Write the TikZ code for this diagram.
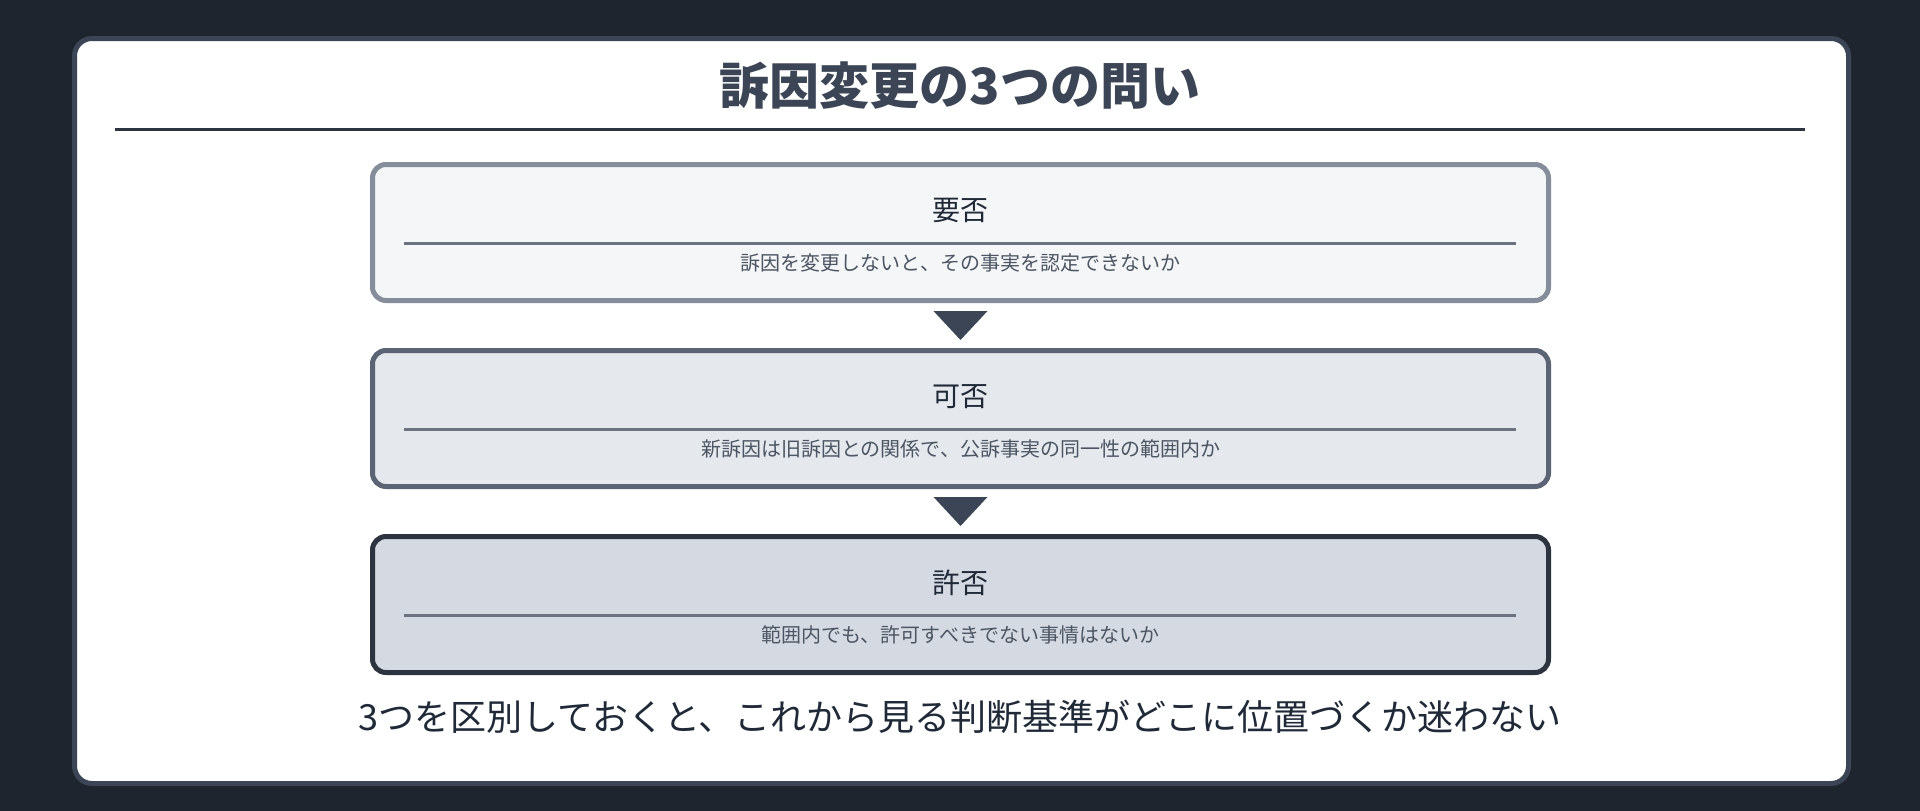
\documentclass[tikz,border=0pt]{standalone}
\usepackage{fontspec}
\setmainfont{Noto Sans CJK JP}
\usetikzlibrary{calc}
\definecolor{bgdark}{HTML}{1E252F}
\definecolor{cardborder}{HTML}{3B4556}
\definecolor{ruledark}{HTML}{2D3440}
\definecolor{fillA}{HTML}{F5F6F8}
\definecolor{drawA}{HTML}{858D9A}
\definecolor{fillB}{HTML}{E5E8ED}
\definecolor{drawB}{HTML}{5A6475}
\definecolor{fillC}{HTML}{D5DAE2}
\definecolor{drawC}{HTML}{2D3440}
\definecolor{innerline}{HTML}{6B7280}
\definecolor{subtext}{HTML}{4B5563}
\definecolor{headtext}{HTML}{1F2937}
\definecolor{arrowfill}{HTML}{3B4556}
\tikzset{
  stagebox/.style={rectangle, rounded corners=13.5pt, line width=5pt,
    minimum width=1176pt, minimum height=136pt, inner sep=0pt, outer sep=0pt},
  stagehead/.style={font=\fontsize{28}{32}\selectfont, text=headtext, inner sep=0pt},
  stagesub/.style={font=\fontsize{20}{24}\selectfont, text=subtext, inner sep=0pt},
  stagerule/.style={line width=3pt, draw=innerline},
  downtri/.style={fill=arrowfill},
}
\begin{document}
\begin{tikzpicture}[x=1pt,y=-1pt]
\useasboundingbox (0,0) rectangle (1920,811);
\fill[bgdark] (0,0) rectangle (1920,811);
\draw[line width=5pt, draw=cardborder, fill=white, rounded corners=17.5pt] (74.5,38.5) rectangle (1848.5,783.5);
\node[font=\fontsize{50}{56}\bfseries\selectfont, text=cardborder, inner sep=0pt] (title) at (960,86) {訴因変更の3つの問い};
\coordinate (ruleL) at (115,129.5);
\coordinate (ruleR) at (1805,129.5);
\draw[line width=3pt, draw=ruledark] (ruleL) -- (ruleR);

\node[stagebox, draw=drawA, fill=fillA] (b1) at (960.5,232.5) {};
\node[stagebox, draw=drawB, fill=fillB] (b2) at (960.5,418.5) {};
\node[stagebox, draw=drawC, fill=fillC] (b3) at (960.5,604.5) {};

\foreach \b in {b1,b2,b3}{
  \coordinate (\b-l) at ($(\b.north west)+(31.5,78.5)$);
  \coordinate (\b-r) at ($(\b.north east)+(-32.5,78.5)$);
  \draw[stagerule] (\b-l) -- (\b-r);
}
\node[stagehead] (h1) at ($(b1.north)+(0,46)$) {要否};
\node[stagesub] (s1) at ($(b1.north)+(0,98.5)$) {訴因を変更しないと、その事実を認定できないか};
\node[stagehead] (h2) at ($(b2.north)+(0,46)$) {可否};
\node[stagesub] (s2) at ($(b2.north)+(0,98.5)$) {新訴因は旧訴因との関係で、公訴事実の同一性の範囲内か};
\node[stagehead] (h3) at ($(b3.north)+(0,46)$) {許否};
\node[stagesub] (s3) at ($(b3.north)+(0,98.5)$) {範囲内でも、許可すべきでない事情はないか};

\fill[downtri] ($(b1.south)+(-27,10.5)$) -- ($(b1.south)+(27,10.5)$) -- ($(b1.south)+(0,39.5)$) -- cycle;
\fill[downtri] ($(b2.south)+(-27,10.5)$) -- ($(b2.south)+(27,10.5)$) -- ($(b2.south)+(0,39.5)$) -- cycle;

\node[font=\fontsize{36}{40}\selectfont, text=headtext, inner sep=0pt] (foot) at (960,717) {3つを区別しておくと、これから見る判断基準がどこに位置づくか迷わない};
\end{tikzpicture}
\end{document}
